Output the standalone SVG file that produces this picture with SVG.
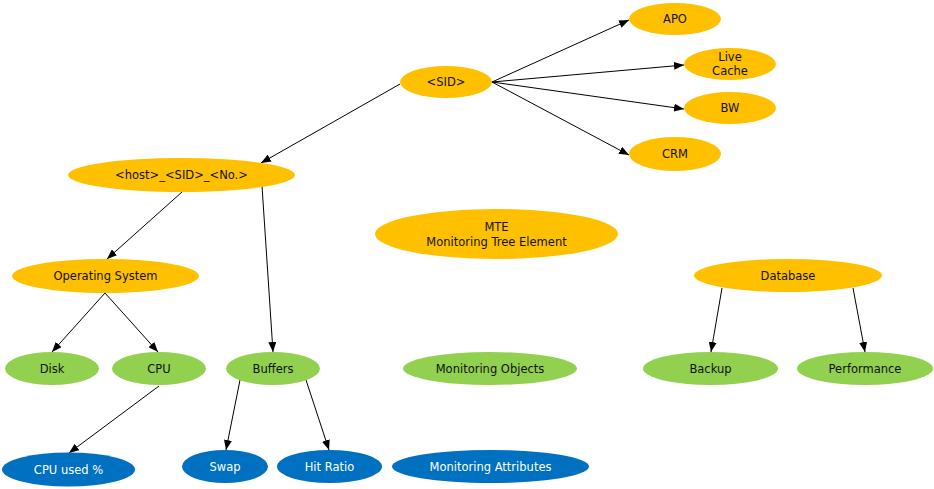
<svg xmlns="http://www.w3.org/2000/svg" width="934" height="489" viewBox="0 0 934 489">
  <style>
    .mte { fill: #FFC000; }
    .mo { fill: #92D050; }
    .ma { fill: #0070C0; }
    text { font-family: "DejaVu Sans", Verdana, sans-serif; font-size: 11.5px; text-anchor: middle; fill: #111111; }
    .light { fill: #ffffff; }
    .edge { stroke: #000000; stroke-width: 1; fill: none; marker-end: url(#arrow); }
  </style>
  <defs>
    <marker id="arrow" viewBox="0 0 10 8" refX="10" refY="4" markerWidth="10" markerHeight="8" markerUnits="userSpaceOnUse" orient="auto">
      <path d="M0,0 L10,4 L0,8 Z" fill="#000000"/>
    </marker>
  </defs>
  <rect width="934" height="489" fill="#ffffff"/>

  <g id="connectors">
    <line class="edge" x1="492" y1="82" x2="629" y2="20"/>
    <line class="edge" x1="492" y1="82" x2="684" y2="65"/>
    <line class="edge" x1="492" y1="82" x2="684" y2="109"/>
    <line class="edge" x1="492" y1="82" x2="629" y2="155"/>
    <line class="edge" x1="400" y1="84" x2="261" y2="163"/>
    <line class="edge" x1="182" y1="192" x2="107" y2="259"/>
    <line class="edge" x1="262" y1="186" x2="273" y2="352"/>
    <line class="edge" x1="105" y1="293" x2="52" y2="352"/>
    <line class="edge" x1="105" y1="293" x2="158" y2="352"/>
    <line class="edge" x1="159" y1="386" x2="69" y2="453"/>
    <line class="edge" x1="240" y1="380" x2="226" y2="450"/>
    <line class="edge" x1="306" y1="380" x2="329" y2="450"/>
    <line class="edge" x1="722" y1="288" x2="711" y2="352"/>
    <line class="edge" x1="853" y1="288" x2="865" y2="352"/>
  </g>

  <g id="sid"><ellipse class="mte" cx="446" cy="82" rx="46" ry="16"/><text x="446" y="86">&lt;SID&gt;</text></g>
  <g id="apo"><ellipse class="mte" cx="675" cy="19" rx="46" ry="16"/><text x="675" y="23">APO</text></g>
  <g id="livecache"><ellipse class="mte" cx="730" cy="64" rx="46" ry="16"/><text x="730" y="61">Live</text><text x="730" y="75">Cache</text></g>
  <g id="bw"><ellipse class="mte" cx="730" cy="108" rx="46" ry="16"/><text x="730" y="112">BW</text></g>
  <g id="crm"><ellipse class="mte" cx="675" cy="154" rx="46" ry="17"/><text x="675" y="158">CRM</text></g>
  <g id="host"><ellipse class="mte" cx="181.5" cy="175" rx="113.5" ry="17"/><text x="181.5" y="179">&lt;host&gt;_&lt;SID&gt;_&lt;No.&gt;</text></g>
  <g id="os"><ellipse class="mte" cx="105.5" cy="276" rx="93.5" ry="17"/><text x="105.5" y="280">Operating System</text></g>
  <g id="mte-legend"><ellipse class="mte" cx="496.5" cy="234" rx="121.5" ry="25"/><text x="496.5" y="231">MTE</text><text x="496.5" y="246">Monitoring Tree Element</text></g>
  <g id="database"><ellipse class="mte" cx="788" cy="275.5" rx="94" ry="16.5"/><text x="788" y="279.5">Database</text></g>

  <g id="disk"><ellipse class="mo" cx="52" cy="368.5" rx="47" ry="16.5"/><text x="52" y="372.5">Disk</text></g>
  <g id="cpu"><ellipse class="mo" cx="159" cy="368.5" rx="47" ry="16.5"/><text x="159" y="372.5">CPU</text></g>
  <g id="buffers"><ellipse class="mo" cx="273" cy="368.5" rx="47" ry="16.5"/><text x="273" y="372.5">Buffers</text></g>
  <g id="mo-legend"><ellipse class="mo" cx="490" cy="368.5" rx="87" ry="16.5"/><text x="490" y="372.5">Monitoring Objects</text></g>
  <g id="backup"><ellipse class="mo" cx="710.5" cy="368.5" rx="67.5" ry="16.5"/><text x="710.5" y="372.5">Backup</text></g>
  <g id="performance"><ellipse class="mo" cx="865" cy="368.5" rx="68" ry="16.5"/><text x="865" y="372.5">Performance</text></g>

  <g id="cpu-used"><ellipse class="ma" cx="68.5" cy="469.5" rx="66.5" ry="17"/><text class="light" x="68.5" y="473.5">CPU used %</text></g>
  <g id="swap"><ellipse class="ma" cx="225" cy="466.5" rx="43" ry="16.5"/><text class="light" x="225" y="470.5">Swap</text></g>
  <g id="hit-ratio"><ellipse class="ma" cx="329.5" cy="466.5" rx="52.5" ry="16.5"/><text class="light" x="329.5" y="470.5">Hit Ratio</text></g>
  <g id="ma-legend"><ellipse class="ma" cx="490.5" cy="466.5" rx="98.5" ry="16.5"/><text class="light" x="490.5" y="470.5">Monitoring Attributes</text></g>
</svg>
